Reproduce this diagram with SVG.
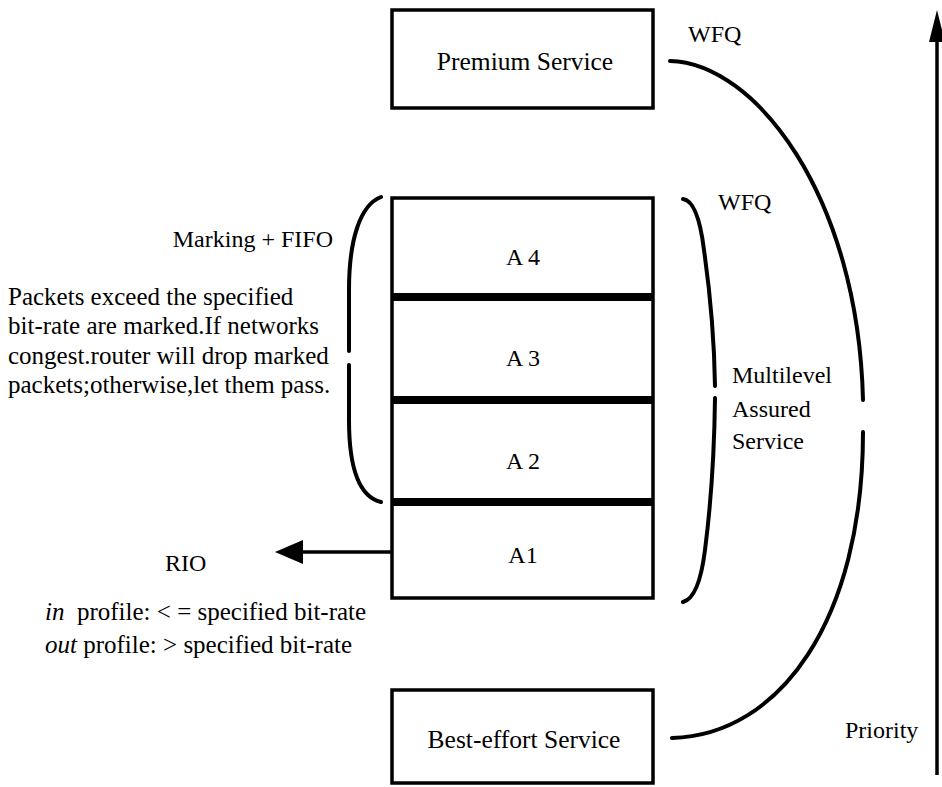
<svg xmlns="http://www.w3.org/2000/svg" width="942" height="787" viewBox="0 0 942 787">
<style>
  text { font-family: "Liberation Serif", "Times New Roman", serif; font-size: 24px; fill: #000; }
  .c { text-anchor: middle; }
  .p { font-size: 25px; }
  .big { font-size: 25.5px; }
  .box { fill: #fff; stroke: #000; stroke-width: 3.5; }
  .div { stroke: #000; stroke-width: 8; }
  .ln { fill: none; stroke: #000; stroke-width: 4; stroke-linecap: round; }
  .ar { fill: none; stroke: #000; stroke-width: 3.5; }
</style>
<rect width="942" height="787" fill="#fff"/>

<g id="premium">
  <rect class="box" x="392" y="10" width="261" height="98"/>
  <text class="c big" x="525" y="70">Premium Service</text>
</g>

<g id="assured-stack">
  <rect class="box" x="392" y="198" width="261" height="400"/>
  <g id="a4"><text class="c" x="523" y="265">A 4</text></g>
  <g id="a3"><text class="c" x="523" y="366">A 3</text></g>
  <g id="a2"><text class="c" x="523" y="469">A 2</text></g>
  <g id="a1"><text class="c" x="523" y="563">A1</text></g>
  <line class="div" x1="392" y1="297" x2="653" y2="297"/>
  <line class="div" x1="392" y1="400" x2="653" y2="400"/>
  <line class="div" x1="392" y1="502" x2="653" y2="502"/>
</g>

<g id="best-effort">
  <rect class="box" x="392" y="690" width="261" height="93"/>
  <text class="c big" x="524" y="748">Best-effort Service</text>
</g>

<g id="connectors">
  <!-- big WFQ curve -->
  <path class="ln" d="M 670 61 C 755 63, 858 195, 863 400"/>
  <path class="ln" d="M 863 432 C 863 620, 780 735, 672 738"/>
  <!-- multilevel brace -->
  <path class="ln" d="M 683 199 Q 698 201 704 250 Q 714 320 715 386"/>
  <path class="ln" d="M 715 398 Q 714 480 705 550 Q 699 598 683 602"/>
  <!-- marking brace -->
  <path class="ln" d="M 381 197 C 360 205, 349 240, 349 290 L 349 351"/>
  <path class="ln" d="M 349 365 L 349 420 C 349 470, 360 497, 381 502"/>
  <!-- RIO arrow -->
  <line class="ar" x1="392" y1="552" x2="300" y2="552"/>
  <polygon points="275,552 303,540 303,564" fill="#000"/>
  <!-- priority arrow -->
  <line class="ar" x1="937" y1="775" x2="937" y2="38"/>
  <polygon points="937,10 929,42 945,42" fill="#000"/>
</g>

<g id="labels">
  <text x="688" y="42">WFQ</text>
  <text x="718" y="210">WFQ</text>
  <text x="333" y="247" text-anchor="end">Marking + FIFO</text>
  <text class="p" x="8" y="305">Packets exceed the specified</text>
  <text class="p" x="8" y="334">bit-rate are marked.If networks</text>
  <text class="p" x="8" y="364">congest.router will drop marked</text>
  <text class="p" x="8" y="393">packets;otherwise,let them pass.</text>
  <text x="732" y="383">Multilevel</text>
  <text x="732" y="417">Assured</text>
  <text x="732" y="449">Service</text>
  <text x="165" y="571">RIO</text>
  <text class="p" x="45" y="620"><tspan font-style="italic">in</tspan>&#160; profile: &lt; = specified bit-rate</text>
  <text class="p" x="45" y="653"><tspan font-style="italic">out</tspan> profile: &gt; specified bit-rate</text>
  <text x="845" y="738">Priority</text>
</g>
</svg>
